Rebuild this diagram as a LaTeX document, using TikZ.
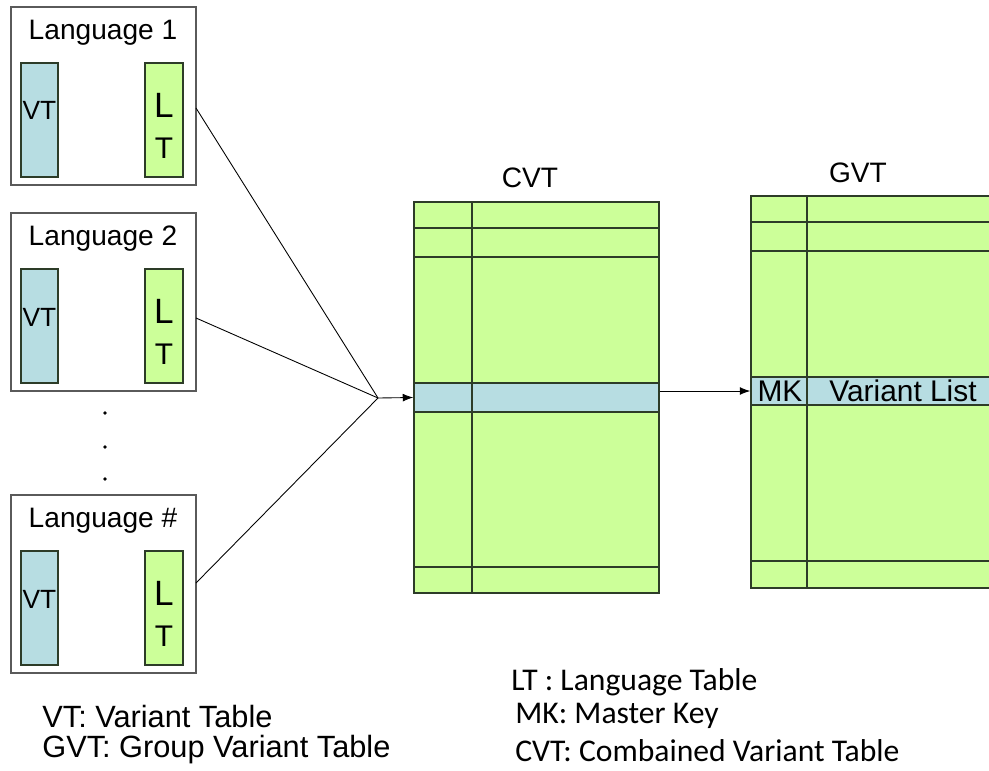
\documentclass[tikz,border=0pt]{standalone}
\usepackage{fontspec}
\setmainfont{Liberation Sans}
\newfontfamily\legendfont{Carlito}
\usetikzlibrary{fit,arrows.meta}

\definecolor{ltgreen}{RGB}{204,255,153}
\definecolor{vtblue}{RGB}{183,221,226}
\definecolor{boxgray}{RGB}{90,90,90}
\definecolor{tblline}{RGB}{45,60,40}

\tikzset{
  langbox/.style={draw=boxgray,line width=1.1pt,inner sep=0pt},
  vtbar/.style={draw=tblline,fill=vtblue,line width=0.6pt,inner sep=0pt,font=\fontsize{15}{18}\selectfont},
  ltbar/.style={draw=tblline,fill=ltgreen,line width=0.6pt,inner sep=0pt},
  tbl/.style={draw=tblline,fill=ltgreen,line width=0.8pt,inner sep=0pt},
  rowline/.style={draw=tblline,line width=0.8pt},
  keyrow/.style={draw=tblline,fill=vtblue,line width=0.8pt,inner sep=0pt},
  title/.style={inner sep=0pt,font=\fontsize{16}{19}\selectfont},
  conn/.style={line width=0.5pt},
  tip/.style={-{Latex[length=6pt,width=4.5pt]}},
  legend/.style={anchor=west,inner sep=0pt,font=\fontsize{17.5}{20}\selectfont},
  rlegend/.style={legend,font=\legendfont\fontsize{18}{21}\selectfont},
}

\begin{document}
\begin{tikzpicture}[x=0.02cm,y=-0.02cm]
	\useasboundingbox (0,0) rectangle (989,770);
	\coordinate (merge) at (378,398);
	% the language boxes
	\foreach \ty/\name/\lbl/\dy in {7/lang1/Language 1/101, 213/lang2/Language 2/105, 495/lang3/Language \#/88}{
		\node[langbox,fit={(11,\ty) (196,\ty+178)}] (\name) {};
		\node[title] (\name-title) at (103,\ty+26) {\lbl};
		\node[vtbar,fit={(21,\ty+56) (58,\ty+170)}] (\name-vt) {VT};
		\node[ltbar,fit={(145,\ty+56) (183,\ty+170)}] (\name-lt) {};
		\node[inner sep=0pt,font=\fontsize{20}{22}\selectfont] (\name-l) at (164,\ty+98) {L};
		\node[inner sep=0pt,font=\fontsize{17}{19}\selectfont] (\name-t) at (164,\ty+141) {T};
		\coordinate (\name-out) at (196,\ty+\dy);
		\draw[conn] (\name-out) -- (merge);
	}
	% the dots between box 2 and box #
	\foreach \dd in {413,447,479}
		\fill (105,\dd) circle (1.1pt);
	% CVT
	\node[title] (cvt-title) at (530,178) {CVT};
	\node[tbl,fit={(414,202) (659,593)}] (cvt) {};
	\foreach \ry in {228,257,567}
		\draw[rowline] (414,\ry) -- (659,\ry);
	\node[keyrow,fit={(414,383) (659,412)}] (cvtrow) {};
	\draw[rowline] (472,202) -- (472,593);
	% GVT, cut off at the right edge
	\node[title] (gvt-title) at (858,173) {GVT};
	\begin{scope}
		\clip (0,0) rectangle (989,770);
		\node[tbl,fit={(751,196) (995,588)}] (gvt) {};
		\foreach \ry in {222,251,561}
			\draw[rowline] (751,\ry) -- (995,\ry);
		\node[keyrow,fit={(751,377) (995,405)}] (gvtrow) {};
		\draw[rowline] (807,196) -- (807,588);
	\end{scope}
	\node[title,font=\fontsize{17}{19}\selectfont] (mk) at (780,391) {MK};
	\node[title,font=\fontsize{17}{19}\selectfont] (vlist) at (903,391) {Variant List};
	% arrows
	\draw[conn,tip] (merge) -- (cvtrow.west);
	\draw[conn,tip] (cvtrow.east |- gvtrow.west) -- (gvtrow.west);
	% legend
	\node[legend] (key-vt) at (42,716) {VT:\ Variant Table};
	\node[legend] (key-gvt) at (42,750) {GVT:\ Group Variant Table};
	\node[rlegend] (key-lt) at (511,682) {LT : Language Table};
	\node[rlegend] (key-mk) at (515,716) {MK: Master Key};
	\node[rlegend] (key-cvt) at (515,751) {CVT: Combained Variant Table};
\end{tikzpicture}
\end{document}
